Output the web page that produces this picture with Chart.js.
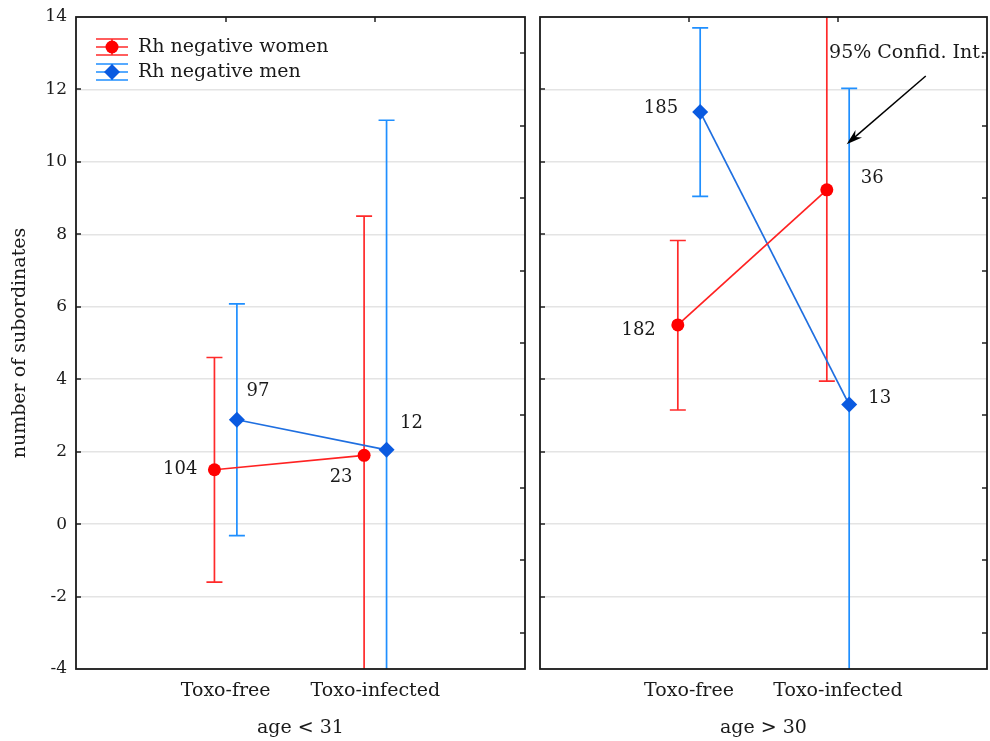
<!DOCTYPE html>
<html>
<head>
<meta charset="utf-8">
<script src="https://cdn.jsdelivr.net/npm/chart.js@4.4.1/dist/chart.umd.min.js"></script>
<style>
    html, body { margin: 0; padding: 0; background: #fff; overflow: hidden; }
    #wrap { position: relative; width: 990px; height: 741px; }
    #leftPanel { position: absolute; left: 0; top: 0; }
    #rightPanel { position: absolute; left: 532px; top: 0; }
</style>
</head>
<body>
<div id="wrap">
    <canvas id="leftPanel" width="532" height="741" style="width:532px;height:741px"></canvas>
    <canvas id="rightPanel" width="458" height="741" style="width:458px;height:741px"></canvas>
</div>
<script>
// --- data ---
const categories = ['Toxo-free', 'Toxo-infected'];
const categoryX = [1, 2];
const seriesNames = ['Rh negative women', 'Rh negative men'];
const panelTitles = ['age < 31', 'age > 30'];
const yMin = -4, yMax = 14, yStep = 2;

// age < 31
const youngWomenMean = [1.5, 1.9];
const youngWomenLow = [-1.6, -4.7];
const youngWomenHigh = [4.6, 8.5];
const youngWomenN = [104, 23];
const youngMenMean = [2.88, 2.05];
const youngMenLow = [-0.32, -7.0];
const youngMenHigh = [6.08, 11.15];
const youngMenN = [97, 12];

// age > 30
const oldWomenMean = [5.5, 9.23];
const oldWomenLow = [3.15, 3.95];
const oldWomenHigh = [7.83, 14.5];
const oldWomenN = [182, 36];
const oldMenMean = [11.38, 3.3];
const oldMenLow = [9.05, -5.4];
const oldMenHigh = [13.7, 12.03];
const oldMenN = [185, 13];

// --- styling ---
const FAMILY = '"DejaVu Serif", serif';
const FONT = { family: FAMILY, size: 19 };      // words
const TICK_FONT = { family: FAMILY, size: 17 }; // axis numbers
const COUNT_SIZE = 18;
const TEXT = '#1a1a1a';
const WOMEN = { line: '#ff2222', bar: '#ff2a2a', marker: '#ff0000', shift: -0.075, style: 'circle', radius: 6.5 };
const MEN = { line: '#1f6fe0', bar: '#1f8fff', marker: '#0a5ae0', shift: 0.075, style: 'rectRot', radius: 8 };

// where the n labels sit relative to their point: [dx, dy, align]
const youngLabelPos = { women: [[-17, 0, 'right'], [-23, 22, 'center']], men: [[21, -28, 'center'], [25, -27, 'center']] };
const oldLabelPos = { women: [[-22, 5, 'right'], [34, -11, 'left']], men: [[-22, -4, 'right'], [19, -6, 'left']] };

// vertical CI bars, drawn under the markers
const errorBars = {
    id: 'errorBars',
    beforeDatasetsDraw(chart) {
        const { ctx, chartArea: a, scales: { y } } = chart;
        ctx.save();
        ctx.beginPath();
        ctx.rect(a.left, a.top, a.right - a.left, a.bottom - a.top);
        ctx.clip();
        chart.data.datasets.forEach((ds, i) => {
            const meta = chart.getDatasetMeta(i);
            ctx.strokeStyle = ds.barColor;
            ctx.lineWidth = 1.7;
            meta.data.forEach((pt, j) => {
                const lo = y.getPixelForValue(ds.errLow[j]);
                const hi = y.getPixelForValue(ds.errHigh[j]);
                ctx.beginPath();
                ctx.moveTo(pt.x, lo); ctx.lineTo(pt.x, hi);
                ctx.moveTo(pt.x - 8, lo); ctx.lineTo(pt.x + 8, lo);
                ctx.moveTo(pt.x - 8, hi); ctx.lineTo(pt.x + 8, hi);
                ctx.stroke();
            });
        });
        ctx.restore();
    }
};

// group sizes next to the points
const countLabels = {
    id: 'countLabels',
    afterDatasetsDraw(chart) {
        const { ctx } = chart;
        ctx.save();
        ctx.font = COUNT_SIZE + 'px ' + FAMILY;
        ctx.fillStyle = TEXT;
        ctx.textBaseline = 'middle';
        chart.data.datasets.forEach((ds, i) => {
            chart.getDatasetMeta(i).data.forEach((pt, j) => {
                const [dx, dy, align] = ds.labelPos[j];
                ctx.textAlign = align;
                ctx.fillText(String(ds.counts[j]), pt.x + dx, pt.y + dy);
            });
        });
        ctx.restore();
    }
};

// box round the plot plus the inward tick marks
const frame = {
    id: 'frame',
    afterDraw(chart) {
        const { ctx, chartArea: a, scales: { x, y } } = chart;
        ctx.save();
        ctx.strokeStyle = '#222';
        ctx.lineWidth = 1.5;
        ctx.beginPath();
        for (let v = yMin + 1; v < yMax; v += yStep) {
            const py = Math.round(y.getPixelForValue(v));
            ctx.moveTo(a.right, py); ctx.lineTo(a.right - 5, py);
        }
        for (let v = yMin + yStep; v < yMax; v += yStep) {
            const py = Math.round(y.getPixelForValue(v));
            ctx.moveTo(a.left, py); ctx.lineTo(a.left + 5, py);
        }
        categoryX.forEach(v => {
            const px = Math.round(x.getPixelForValue(v));
            ctx.moveTo(px, a.top); ctx.lineTo(px, a.top + 5);
        });
        ctx.stroke();
        ctx.strokeStyle = '#1a1a1a';
        ctx.lineWidth = 1.8;
        ctx.strokeRect(a.left, a.top, a.right - a.left, a.bottom - a.top);
        ctx.restore();
    }
};

function drawSymbol(ctx, cx, cy, s) {
    ctx.strokeStyle = s.bar;
    ctx.lineWidth = 1.7;
    ctx.beginPath();
    ctx.moveTo(cx - 16, cy - 8); ctx.lineTo(cx + 16, cy - 8);
    ctx.moveTo(cx - 16, cy + 8); ctx.lineTo(cx + 16, cy + 8);
    ctx.moveTo(cx, cy - 8); ctx.lineTo(cx, cy + 8);
    ctx.moveTo(cx - 16, cy); ctx.lineTo(cx + 16, cy);
    ctx.stroke();
    ctx.fillStyle = s.marker;
    ctx.beginPath();
    if (s.style === 'circle') {
        ctx.arc(cx, cy, s.radius, 0, Math.PI * 2);
    } else {
        ctx.moveTo(cx, cy - s.radius); ctx.lineTo(cx + s.radius, cy);
        ctx.lineTo(cx, cy + s.radius); ctx.lineTo(cx - s.radius, cy);
        ctx.closePath();
    }
    ctx.fill();
}

const insideLegend = {
    id: 'insideLegend',
    afterDraw(chart, args, opts) {
        if (!opts.show) return;
        const { ctx, chartArea: a } = chart;
        ctx.save();
        [WOMEN, MEN].forEach((s, i) => {
            const cy = a.top + 30 + i * 25;
            drawSymbol(ctx, a.left + 36, cy, s);
            ctx.font = FONT.size + 'px ' + FAMILY;
            ctx.fillStyle = TEXT;
            ctx.textAlign = 'left';
            ctx.textBaseline = 'middle';
            ctx.fillText(seriesNames[i], a.left + 62, cy);
        });
        ctx.restore();
    }
};

// "95% Confid. Int." note with its arrow, placed in data units
const ciNote = {
    id: 'ciNote',
    afterDraw(chart, args, opts) {
        if (!opts.show) return;
        const { ctx, scales: { x, y } } = chart;
        ctx.save();
        ctx.font = FONT.size + 'px ' + FAMILY;
        ctx.fillStyle = TEXT;
        ctx.textBaseline = 'middle';
        ctx.fillText('95% Confid. Int.', x.getPixelForValue(1.94), y.getPixelForValue(13.0));
        const x0 = x.getPixelForValue(2.589), y0 = y.getPixelForValue(12.37);
        const x1 = x.getPixelForValue(2.058), y1 = y.getPixelForValue(10.49);
        const c = Math.cos(Math.atan2(y1 - y0, x1 - x0)), s = Math.sin(Math.atan2(y1 - y0, x1 - x0));
        ctx.strokeStyle = '#000';
        ctx.lineWidth = 1.5;
        ctx.beginPath();
        ctx.moveTo(x0, y0);
        ctx.lineTo(x1 - 10 * c, y1 - 10 * s);
        ctx.stroke();
        ctx.fillStyle = '#000';
        ctx.beginPath();
        ctx.moveTo(x1, y1);
        ctx.lineTo(x1 - 16 * c + 5 * s, y1 - 16 * s - 5 * c);
        ctx.lineTo(x1 - 11 * c, y1 - 11 * s);
        ctx.lineTo(x1 - 16 * c - 5 * s, y1 - 16 * s + 5 * c);
        ctx.closePath();
        ctx.fill();
        ctx.restore();
    }
};

function series(name, s, mean, low, high, n, pos) {
    return {
        label: name,
        data: categoryX.map((v, i) => ({ x: v + s.shift, y: mean[i] })),
        showLine: true,
        borderColor: s.line,
        borderWidth: 1.7,
        pointStyle: s.style,
        pointRadius: s.radius,
        pointBackgroundColor: s.marker,
        pointBorderWidth: 0,
        errLow: low,
        errHigh: high,
        counts: n,
        labelPos: pos,
        barColor: s.bar
    };
}

function makePanel(id, cfg) {
    return new Chart(document.getElementById(id), {
        type: 'scatter',
        data: { datasets: cfg.datasets },
        plugins: [errorBars, countLabels, frame, insideLegend, ciNote],
        options: {
            responsive: false,
            animation: false,
            events: [],
            layout: { autoPadding: false, padding: { left: 0, right: cfg.rightPad, top: 17, bottom: 0 } },
            plugins: {
                legend: { display: false },
                tooltip: { enabled: false },
                insideLegend: { show: cfg.legend },
                ciNote: { show: cfg.note }
            },
            scales: {
                x: {
                    type: 'linear',
                    min: 0,
                    max: 3,
                    afterBuildTicks: (s) => { s.ticks = categoryX.map(v => ({ value: v })); },
                    afterFit: (s) => { s.height = 72; },
                    ticks: {
                        callback: (v, i) => categories[i],
                        font: FONT,
                        color: TEXT,
                        padding: 11,
                        maxRotation: 0,
                        autoSkip: false
                    },
                    grid: { display: false, drawTicks: false },
                    border: { display: false },
                    title: { display: true, text: cfg.title, font: FONT, color: TEXT, padding: { top: 0, bottom: 2 } }
                },
                y: {
                    min: yMin,
                    max: yMax,
                    afterFit: (s) => { s.width = cfg.yWidth; },
                    ticks: { display: cfg.yLabels, stepSize: yStep, font: TICK_FONT, color: TEXT, padding: 5 },
                    grid: { color: '#e4e4e4', lineWidth: 1.5, drawTicks: cfg.yLabels, tickLength: 4, tickColor: 'rgba(0,0,0,0)' },
                    border: { display: false },
                    title: {
                        display: cfg.yLabels,
                        text: 'number of subordinates',
                        font: FONT,
                        color: TEXT,
                        padding: { top: 9, bottom: 0 }
                    }
                }
            }
        }
    });
}

makePanel('leftPanel', {
    title: panelTitles[0],
    yLabels: true,
    yWidth: 76,
    rightPad: 7,
    legend: true,
    note: false,
    datasets: [
        series(seriesNames[0], WOMEN, youngWomenMean, youngWomenLow, youngWomenHigh, youngWomenN, youngLabelPos.women),
        series(seriesNames[1], MEN, youngMenMean, youngMenLow, youngMenHigh, youngMenN, youngLabelPos.men)
    ]
});

makePanel('rightPanel', {
    title: panelTitles[1],
    yLabels: false,
    yWidth: 8,
    rightPad: 3,
    legend: false,
    note: true,
    datasets: [
        series(seriesNames[0], WOMEN, oldWomenMean, oldWomenLow, oldWomenHigh, oldWomenN, oldLabelPos.women),
        series(seriesNames[1], MEN, oldMenMean, oldMenLow, oldMenHigh, oldMenN, oldLabelPos.men)
    ]
});
</script>
</body>
</html>
